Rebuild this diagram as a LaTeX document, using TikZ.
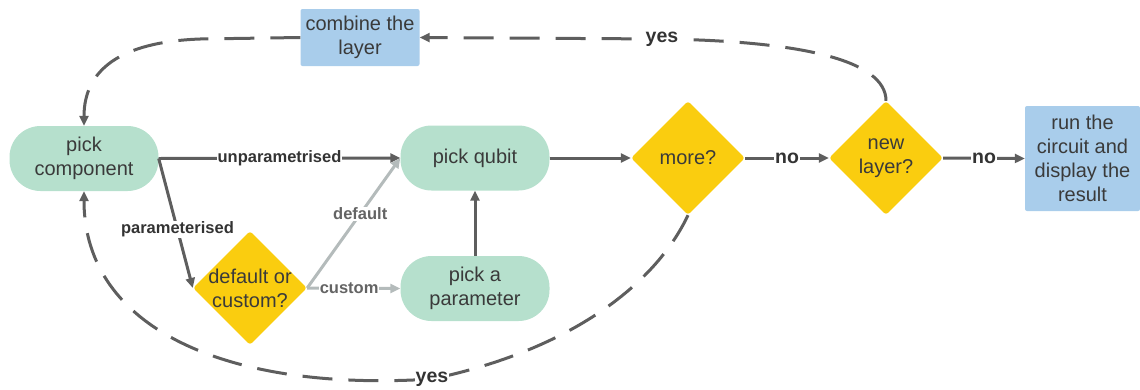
\documentclass[tikz,border=0pt]{standalone}
\usepackage{fontspec}
\setmainfont{Liberation Sans}
\usetikzlibrary{shapes.geometric,arrows.meta}
\definecolor{cgreen}{RGB}{182,224,205}
\definecolor{cblue}{RGB}{169,205,235}
\definecolor{cyellow}{RGB}{250,205,15}
\definecolor{cline}{RGB}{94,94,94}
\definecolor{clight}{RGB}{180,187,187}
\definecolor{ctext}{RGB}{58,58,58}
\definecolor{clbl}{RGB}{51,51,51}
\definecolor{cglbl}{RGB}{100,100,100}
\begin{document}
\begin{tikzpicture}[x=1pt,y=-1pt,
  every node/.style={font=\fontsize{20}{24}\selectfont, text=ctext, align=center},
  pill/.style={fill=cgreen, rounded corners=31pt, minimum width=149pt, minimum height=65pt, inner sep=0pt},
  box/.style={fill=cblue, rounded corners=2pt, inner sep=0pt},
  dia/.style={fill=cyellow, diamond, aspect=1, minimum width=114pt, minimum height=114pt, inner sep=0pt, rounded corners=3pt},
  conn/.style={draw=cline, line width=3pt, -{Triangle[length=10pt,width=9pt]}},
  lconn/.style={draw=clight, line width=3pt, -{Triangle[length=10pt,width=9pt]}},
  dconn/.style={conn, dash pattern=on 30pt off 16pt},
  lbl/.style={font=\fontsize{16.5}{20}\selectfont\bfseries, text=clbl, fill=white, inner sep=1pt},
  glbl/.style={lbl, text=cglbl},
  ylbl/.style={lbl, font=\fontsize{19.5}{22}\selectfont\bfseries},
]
\useasboundingbox (0,0) rectangle (1140,389);

\node[pill] (pc) at (84,158.5) {pick\\component};
\node[pill] (pq) at (475,158) {pick qubit};
\node[pill] (pp) at (475,288.5) {pick a\\parameter};
\node[box, minimum width=119pt, minimum height=57pt] (cb) at (360,37.5) {combine the\\layer};
\node[box, minimum width=115pt, minimum height=105pt] (run) at (1082.5,158.5) {run the\\circuit and\\display the\\result};
\node[dia, label={center:{default or\\custom?}}] (dc) at (250,288) {};
\node[dia, label={center:{more?}}] (mo) at (688,158) {};
\node[dia, label={center:{new\\layer?}}] (nl) at (886,158) {};

\draw[conn] (pc.east) -- node[lbl]{unparametrised} (pq.west);
\draw[conn] (pc.east) -- node[lbl, pos=0.55]{parameterised} (dc.west);
\draw[lconn] (dc.east) -- node[glbl, pos=0.57]{default} (pq.west);
\draw[lconn] (dc.east) -- node[glbl, pos=0.45]{custom} (pp.west);
\draw[conn] (pp.north) -- (pq.south);
\draw[conn] (pq.east) -- (mo.west);
\draw[conn] (mo.east) -- node[ylbl]{no} (nl.west);
\draw[conn] (nl.east) -- node[ylbl]{no} (run.west);

\draw[dconn] (nl.north) .. controls (886,60) and (800,41) .. (662,39) node[ylbl]{yes} -- (cb.east);
\draw[dconn] (cb.west) -- (200,39) .. controls (120,42) and (84,70) .. (pc.north);
\draw[dconn] (mo.south) .. controls (655,285) and (570,350) .. (432,379) node[ylbl]{yes} .. controls (230,392) and (84,330) .. (pc.south);
\end{tikzpicture}
\end{document}
